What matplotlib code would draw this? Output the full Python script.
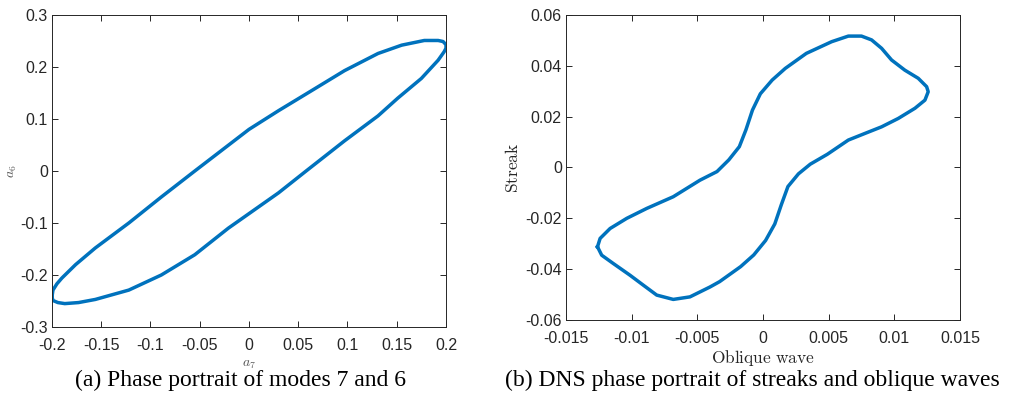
import matplotlib
matplotlib.use("Agg")
import matplotlib.pyplot as plt

plt.rcParams['font.family'] = ['Liberation Sans', 'DejaVu Sans']
plt.rcParams['mathtext.fontset'] = 'cm'

# (a) modes 7 and 6, closed loop
a7 = [-0.200, -0.199, -0.195, -0.190, -0.176, -0.156, -0.122, -0.089, -0.055, 0.000,
      0.030, 0.064, 0.097, 0.131, 0.155, 0.178, 0.192, 0.197, 0.200, 0.200,
      0.198, 0.192, 0.175, 0.151, 0.131, 0.097, 0.058, 0.030, 0.000, -0.021,
      -0.055, -0.089, -0.122, -0.156, -0.173, -0.187, -0.194, -0.199, -0.200]
a6 = [-0.242, -0.229, -0.217, -0.206, -0.180, -0.148, -0.100, -0.050, 0.000, 0.080,
      0.116, 0.155, 0.193, 0.226, 0.242, 0.251, 0.251, 0.249, 0.243, 0.236,
      0.229, 0.213, 0.178, 0.140, 0.106, 0.058, 0.000, -0.042, -0.082, -0.110,
      -0.161, -0.200, -0.229, -0.247, -0.253, -0.255, -0.253, -0.249, -0.242]

# (b) DNS streak vs oblique wave
oblique = [-0.0126, -0.0124, -0.01164, -0.01037, -0.00885, -0.00683, -0.0048, -0.0035,
           -0.0026, -0.0018, -0.0013, -0.0008, -0.0002, 0.0007, 0.0017, 0.0033,
           0.00523, 0.0065, 0.0075, 0.00827, 0.00903, 0.00979, 0.0108, 0.01182,
           0.01246, 0.01258, 0.01233, 0.01157, 0.0103, 0.00903, 0.00776, 0.0065,
           0.00490, 0.0036, 0.0027, 0.0019, 0.0014, 0.0009, 0.0002, -0.0007,
           -0.0017, -0.0033, -0.00403, -0.00556, -0.00683, -0.00809, -0.00911,
           -0.01012, -0.01139, -0.01228, -0.0126]
streak = [-0.0312, -0.0279, -0.0240, -0.0200, -0.0161, -0.0115, -0.0050, -0.0016,
          0.0030, 0.0082, 0.0148, 0.0226, 0.0290, 0.0344, 0.0390, 0.0449,
          0.0495, 0.0517, 0.0517, 0.0502, 0.0469, 0.0423, 0.0383, 0.0351,
          0.0318, 0.0298, 0.0265, 0.0233, 0.0193, 0.0160, 0.0134, 0.0108,
          0.0052, 0.0013, -0.0025, -0.0075, -0.0146, -0.0222, -0.0287, -0.0344,
          -0.0390, -0.0449, -0.0470, -0.0509, -0.0519, -0.0502, -0.0463,
          -0.0424, -0.0378, -0.0345, -0.0312]

xt_a = [-0.2, -0.15, -0.1, -0.05, 0, 0.05, 0.1, 0.15, 0.2]
xl_a = ['-0.2', '-0.15', '-0.1', '-0.05', '0', '0.05', '0.1', '0.15', '0.2']
yt_a = [-0.3, -0.2, -0.1, 0, 0.1, 0.2, 0.3]
yl_a = ['-0.3', '-0.2', '-0.1', '0', '0.1', '0.2', '0.3']
xt_b = [-0.015, -0.01, -0.005, 0, 0.005, 0.01, 0.015]
xl_b = ['-0.015', '-0.01', '-0.005', '0', '0.005', '0.01', '0.015']
yt_b = [-0.06, -0.04, -0.02, 0, 0.02, 0.04, 0.06]
yl_b = ['-0.06', '-0.04', '-0.02', '0', '0.02', '0.04', '0.06']

blue = '#0072BD'
dark = '#262626'

fig = plt.figure(figsize=(10.15, 4.12), dpi=100)
ax1 = fig.add_axes([0.0512, 0.2063, 0.3882, 0.7573])
ax2 = fig.add_axes([0.5576, 0.2233, 0.3882, 0.7403])


def style(ax, xt, xl, yt, yl):
    ax.set_xticks(xt)
    ax.set_xticklabels(xl)
    ax.set_yticks(yt)
    ax.set_yticklabels(yl)
    ax.set_xlim(xt[0], xt[-1])
    ax.set_ylim(yt[0], yt[-1])
    ax.tick_params(direction='in', top=True, right=True, length=4, width=0.7,
                   colors=dark, labelsize=11.5)
    ax.tick_params(axis='x', pad=8)
    ax.tick_params(axis='y', pad=3)
    for s in ax.spines.values():
        s.set_color(dark)
        s.set_linewidth(0.7)


ax1.plot(a7, a6, color=blue, lw=2.5, solid_joinstyle='round')
style(ax1, xt_a, xl_a, yt_a, yl_a)
ax1.set_xlabel(r'$a_7$', fontsize=10, color='#555555', labelpad=2.5)
ax1.set_ylabel(r'$a_6$', fontsize=10, color='#555555', labelpad=1)

ax2.plot(oblique, streak, color=blue, lw=2.5, solid_joinstyle='round')
style(ax2, xt_b, xl_b, yt_b, yl_b)
ax2.set_xlabel(r'$\mathrm{Oblique\ wave}$', fontsize=12.5, color=dark, labelpad=1)
ax2.set_ylabel(r'$\mathrm{Streak}$', fontsize=12.5, color=dark, labelpad=3)

fig.text(0.2365, 0.077, '(a) Phase portrait of modes 7 and 6', ha='center', va='center',
         family='Liberation Serif', fontsize=17)
fig.text(0.741, 0.077, '(b) DNS phase portrait of streaks and oblique waves', ha='center',
         va='center', family='Liberation Serif', fontsize=17)

fig.savefig('out.png', dpi=100)
